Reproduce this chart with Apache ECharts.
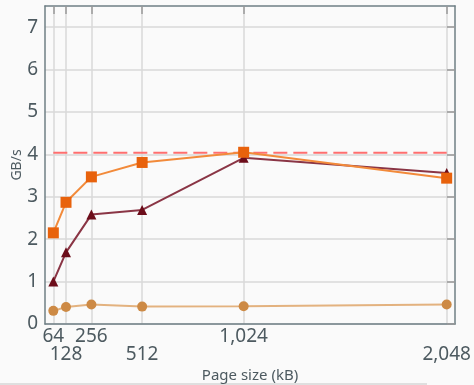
<!DOCTYPE html>
<html><head><meta charset="utf-8">
<script src="https://cdn.jsdelivr.net/npm/echarts@6/dist/echarts.min.js"></script>
<style>html,body{margin:0;padding:0;background:#fafafa;}#c{width:474px;height:385px;}</style>
</head><body><div id="c"></div>
<script>
var pageSizes = [64, 128, 256, 512, 1024, 2048];
var seriesOrange = [2.15, 2.87, 3.47, 3.81, 4.05, 3.44];
var seriesDarkRed = [1.00, 1.69, 2.58, 2.69, 3.92, 3.56];
var seriesTan = [0.31, 0.40, 0.46, 0.41, 0.42, 0.46];
var limitValue = 4.04;
var upperRowTicks = [64, 256, 1024];
var lowerRowTicks = [128, 512, 2048];
var yTicks = [0, 1, 2, 3, 4, 5, 6, 7];

function pairs(vals){ return pageSizes.map(function(x,i){ return [x, vals[i]]; }); }
function fmt(v){ return v >= 1000 ? Math.floor(v/1000) + ',' + String(v % 1000).padStart(3, '0') : String(v); }
var font = '"Noto Sans", "Open Sans", sans-serif';
var labelColor = '#4d5a60';
var frameColor = '#6f7f85';
var gridColor = '#d9d9d9';
var X_MIN = 22, X_MAX = 2090;

var chart = echarts.init(document.getElementById('c'), null, {renderer:'canvas'});
chart.setOption({
  backgroundColor: '#fafafa',
  animation: false,
  grid: {left: 45, right: 19, top: 6, bottom: 61, containLabel: false, outerBoundsMode: 'none'},
  xAxis: [{
    type: 'value', min: X_MIN, max: X_MAX, position: 'bottom',
    name: 'Page size (kB)', nameLocation: 'middle', nameGap: 44, nameMoveOverlap: false,
    nameTextStyle: {fontFamily: font, fontSize: 15, color: labelColor},
    axisLine: {show: true, onZero: false, lineStyle: {color: frameColor, width: 1.5}},
    axisTick: {show: false, customValues: pageSizes},
    splitLine: {show: true, lineStyle: {color: gridColor, width: 1.5}},
    axisLabel: {customValues: upperRowTicks, margin: 3, hideOverlap: false,
      fontFamily: font, fontSize: 19, color: labelColor, formatter: fmt}
  }, {
    type: 'value', min: X_MIN, max: X_MAX, position: 'top',
    axisLine: {show: true, onZero: false, lineStyle: {color: frameColor, width: 1.5}},
    axisTick: {show: true, inside: true, length: 8, customValues: pageSizes, lineStyle: {color: '#999', width: 1.5}},
    axisLabel: {show: false, customValues: pageSizes},
    splitLine: {show: false}
  }, {
    type: 'value', min: X_MIN, max: X_MAX, position: 'bottom', offset: 0,
    axisLine: {show: false, onZero: false},
    axisTick: {show: false, customValues: lowerRowTicks},
    splitLine: {show: false},
    axisLabel: {customValues: lowerRowTicks, margin: 21, hideOverlap: false,
      fontFamily: font, fontSize: 19, color: labelColor, formatter: fmt}
  }],
  yAxis: [{
    type: 'value', min: 0, max: 7.5, interval: 1, position: 'left',
    name: 'GB/s', nameLocation: 'middle', nameGap: 21, nameMoveOverlap: false,
    nameTextStyle: {fontFamily: font, fontSize: 14, color: labelColor},
    axisLine: {show: true, onZero: false, lineStyle: {color: frameColor, width: 1.5}},
    axisTick: {show: false, customValues: yTicks},
    axisLabel: {customValues: yTicks, margin: 7, fontFamily: font, fontSize: 19, color: labelColor},
    splitLine: {show: true, lineStyle: {color: gridColor, width: 1.5}}
  }, {
    type: 'value', min: 0, max: 7.5, interval: 1, position: 'right',
    axisLine: {show: true, onZero: false, lineStyle: {color: frameColor, width: 1.5}},
    axisTick: {show: true, inside: true, length: 8, customValues: yTicks, lineStyle: {color: '#999', width: 1.5}},
    axisLabel: {show: false},
    splitLine: {show: false}
  }],
  series: [{
    type: 'line', data: [[pageSizes[0], limitValue], [pageSizes[pageSizes.length-1], limitValue]],
    symbol: 'none', lineStyle: {color: '#ff6f6f', width: 2, type: [14, 6]}, z: 1
  }, {
    type: 'line', data: pairs(seriesTan), symbol: 'circle', symbolSize: 10,
    itemStyle: {color: '#cd8a45'}, lineStyle: {color: '#e3b27f', width: 2}, z: 2
  }, {
    type: 'line', data: pairs(seriesDarkRed), symbol: 'triangle', symbolSize: 10,
    itemStyle: {color: '#6c0d1a'}, lineStyle: {color: '#8a3545', width: 2}, z: 3
  }, {
    type: 'line', data: pairs(seriesOrange), symbol: 'rect', symbolSize: 11,
    itemStyle: {color: '#e8620c'}, lineStyle: {color: '#f28a3a', width: 2}, z: 4
  }],
  graphic: [{
    type: 'line', shape: {x1: 0, y1: 384, x2: 427, y2: 384},
    style: {stroke: '#c4c4c4', lineWidth: 1}, silent: true
  }]
});
</script></body></html>
